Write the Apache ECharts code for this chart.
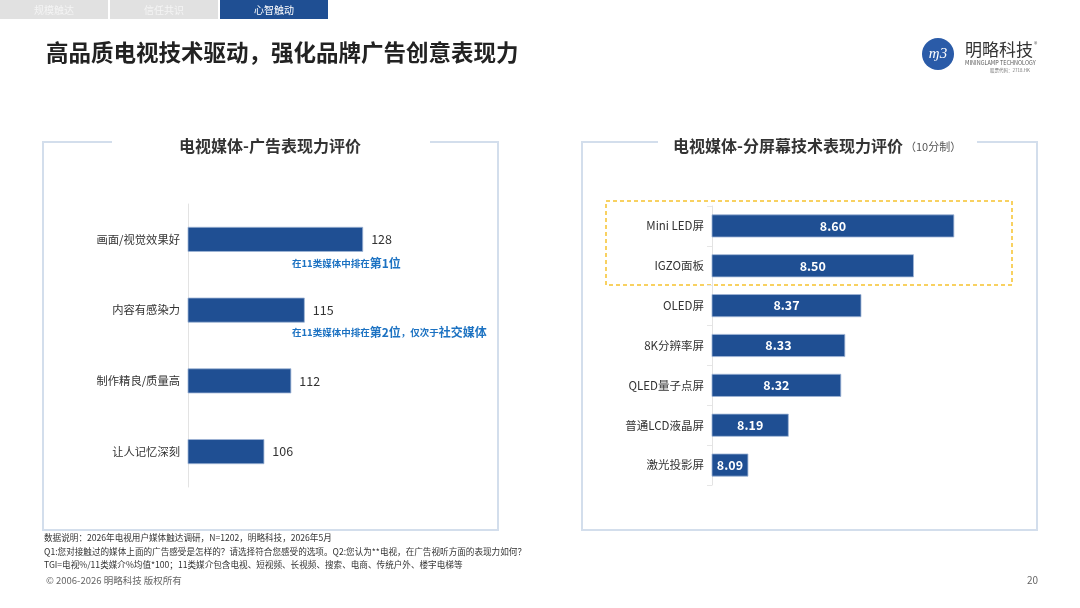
<!DOCTYPE html>
<html>
<head>
<meta charset="utf-8">
<script src="https://cdn.jsdelivr.net/npm/echarts@6/dist/echarts.min.js"></script>
<style>
  html, body { margin: 0; padding: 0; background: #fff; }
  #main { width: 1080px; height: 608px; }
</style>
</head>
<body>
<div id="main"></div>
<script>
// 数据
var adCats = ['画面/视觉效果好', '内容有感染力', '制作精良/质量高', '让人记忆深刻'];
var adValues = [128, 115, 112, 106];
var screenCats = ['Mini LED屏', 'IGZO面板', 'OLED屏', '8K分辨率屏', 'QLED量子点屏', '普通LCD液晶屏', '激光投影屏'];
var screenValues = [8.60, 8.50, 8.37, 8.33, 8.32, 8.19, 8.09];
var tabs = ['规模触达', '信任共识', '心智触动'];
var notes = [
    '数据说明：2026年电视用户媒体触达调研，N=1202，明略科技，2026年5月',
    'Q1:您对接触过的媒体上面的广告感受是怎样的？请选择符合您感受的选项。Q2:您认为**电视，在广告视听方面的表现力如何？',
    'TGI=电视%/11类媒介%均值*100；11类媒介包含电视、短视频、长视频、搜索、电商、传统户外、楼宇电梯等'
];

(function () {
    var FONT = '"Noto Sans CJK SC", "Noto Sans", sans-serif';
    var BLUE = '#1f4f93';
    var myChart = echarts.init(document.getElementById('main'));

    var g = [];
    // 顶部标签页
    tabs.forEach(function (t, i) {
        var active = i === 2;
        g.push({
            type: 'rect', shape: { x: i * 110, y: 0, width: 108, height: 19 },
            style: { fill: active ? '#1f4f93' : '#e1e1e1' }
        });
        g.push({
            type: 'text', x: i * 110 + 54, y: 10,
            style: { text: t, fill: active ? '#fff' : '#f4f4f4', font: '10px ' + FONT, align: 'center', verticalAlign: 'middle' }
        });
    });
    // 大标题
    g.push({
        type: 'text', x: 46, y: 52,
        style: { text: '高品质电视技术驱动，强化品牌广告创意表现力', fill: '#222', font: 'bold 22.5px ' + FONT, verticalAlign: 'middle' }
    });
    // logo
    g.push({ type: 'circle', shape: { cx: 938, cy: 54, r: 16 }, style: { fill: '#2a5ba8' } });
    g.push({ type: 'text', x: 938, y: 54, style: { text: 'ɱ3', fill: '#fff', font: 'italic 15px serif', align: 'center', verticalAlign: 'middle' } });
    g.push({ type: 'text', x: 965, y: 50, style: { text: '明略科技', fill: '#333', font: '17px ' + FONT, verticalAlign: 'middle' } });
    g.push({ type: 'text', x: 1034, y: 44, style: { text: '®', fill: '#666', font: '7px ' + FONT, verticalAlign: 'middle' } });
    g.push({ type: 'text', x: 965, y: 63, style: { text: 'MININGLAMP TECHNOLOGY', fill: '#555', font: '5.5px ' + FONT, verticalAlign: 'middle' } });
    g.push({ type: 'text', x: 990, y: 70, style: { text: '股票代码：2718.HK', fill: '#777', font: '4.5px ' + FONT, verticalAlign: 'middle' } });

    // 两个面板边框
    var panels = [
        { x: 43, gap: [112, 430], title: '电视媒体-广告表现力评价', cx: 270 },
        { x: 582, gap: [658, 977], title: '电视媒体-分屏幕技术表现力评价', cx: 788 }
    ];
    panels.forEach(function (p) {
        g.push({ type: 'rect', shape: { x: p.x, y: 142, width: 455, height: 388 }, style: { fill: 'none', stroke: '#d3deec', lineWidth: 2 } });
        g.push({ type: 'rect', shape: { x: p.gap[0], y: 138, width: p.gap[1] - p.gap[0], height: 8 }, style: { fill: '#fff' } });
        g.push({ type: 'text', x: p.cx, y: 146, style: { text: p.title, fill: '#333', font: 'bold 16px ' + FONT, align: 'center', verticalAlign: 'middle' } });
    });
    g.push({ type: 'text', x: 905, y: 147, style: { text: '（10分制）', fill: '#555', font: '11px ' + FONT, verticalAlign: 'middle' } });

    // 左图注释
    var rich = {
        a: { fill: '#1c72c2', font: 'bold 9.5px ' + FONT },
        b: { fill: '#1c72c2', font: 'bold 12px ' + FONT }
    };
    g.push({ type: 'text', x: 292, y: 263, style: { text: '{a|在11类媒体中排在}{b|第1位}', rich: rich, verticalAlign: 'middle' } });
    g.push({ type: 'text', x: 292, y: 332, style: { text: '{a|在11类媒体中排在}{b|第2位}{a|，仅次于}{b|社交媒体}', rich: rich, verticalAlign: 'middle' } });

    // 右图黄色虚线框
    g.push({ type: 'rect', shape: { x: 606, y: 201, width: 406, height: 84 }, style: { fill: 'none', stroke: '#f6c22e', lineWidth: 1.5, lineDash: [4, 3] } });

    // 底部说明
    notes.forEach(function (n, i) {
        g.push({ type: 'text', x: 44, y: 538 + i * 13.5, style: { text: n, fill: '#333', font: '8.6px ' + FONT, verticalAlign: 'middle' } });
    });
    g.push({ type: 'text', x: 46, y: 580, style: { text: '© 2006-2026 明略科技 版权所有', fill: '#666', font: '9.5px ' + FONT, verticalAlign: 'middle' } });
    g.push({ type: 'text', x: 1038, y: 580, style: { text: '20', fill: '#666', font: '10px ' + FONT, align: 'right', verticalAlign: 'middle' } });

    var option = {
        backgroundColor: '#fff',
        textStyle: { fontFamily: FONT },
        grid: [
            { left: 188, top: 204, width: 242.5, height: 283 },
            { left: 712, top: 206, width: 323, height: 279 }
        ],
        xAxis: [
            { gridIndex: 0, type: 'value', min: 89, max: 143, show: false },
            { gridIndex: 1, type: 'value', min: 8, max: 8.8, show: false }
        ],
        yAxis: [
            {
                gridIndex: 0, type: 'category', data: adCats, inverse: true,
                axisLine: { lineStyle: { color: '#e3e3e3' } },
                axisTick: { show: false },
                axisLabel: { color: '#333', fontSize: 11.3, margin: 8 }
            },
            {
                gridIndex: 1, type: 'category', data: screenCats, inverse: true,
                axisLine: { lineStyle: { color: '#e3e3e3' } },
                axisTick: { show: true, length: 5, lineStyle: { color: '#e6e6e6' } },
                axisLabel: { color: '#333', fontSize: 11.5, margin: 8 }
            }
        ],
        series: [
            {
                type: 'bar', xAxisIndex: 0, yAxisIndex: 0, data: adValues, barWidth: 25,
                itemStyle: { color: BLUE, borderColor: '#9fb5d6', borderWidth: 0.8 },
                label: { show: true, position: 'right', distance: 8, color: '#333', fontSize: 12.5 },
                silent: true
            },
            {
                type: 'bar', xAxisIndex: 1, yAxisIndex: 1, data: screenValues, barWidth: 23,
                itemStyle: { color: BLUE, borderColor: '#9fb5d6', borderWidth: 0.8 },
                label: {
                    show: true, position: 'inside', color: '#fff', fontSize: 12.5, fontWeight: 'bold',
                    formatter: function (p) { return p.value.toFixed(2); }
                },
                silent: true
            }
        ],
        graphic: g
    };

    myChart.setOption(option);
})();
</script>
</body>
</html>
